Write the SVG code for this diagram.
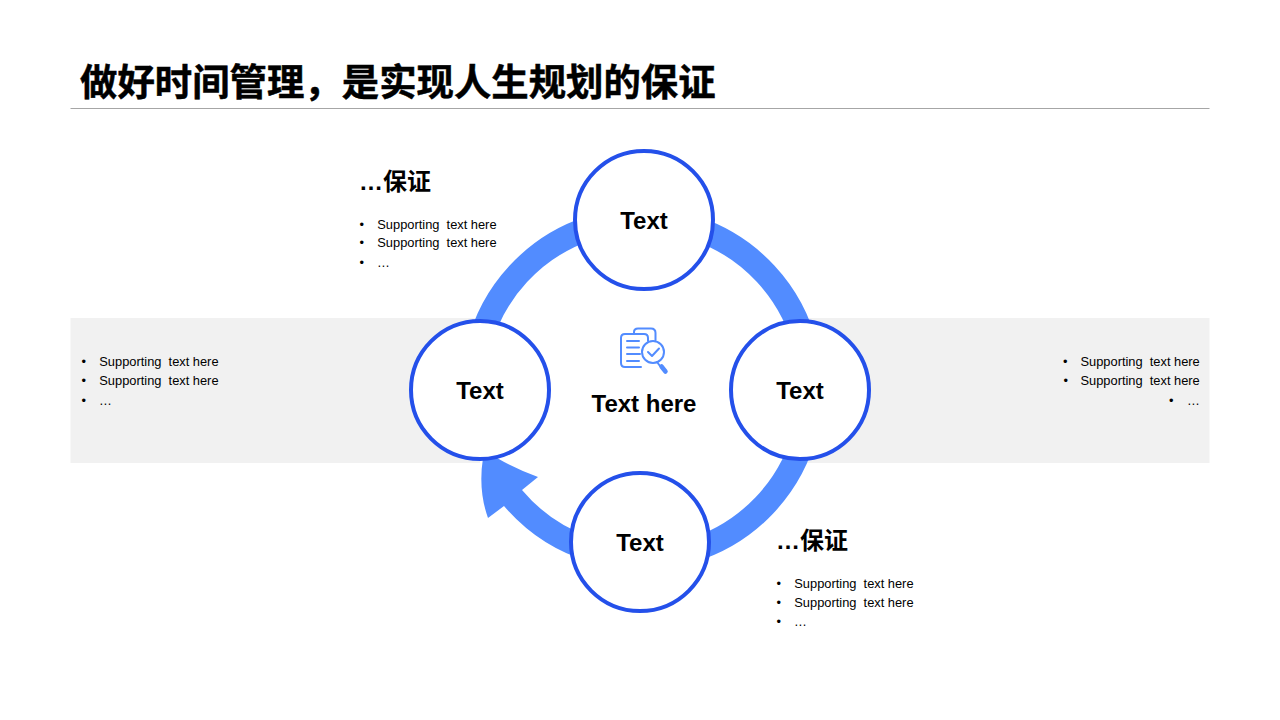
<svg xmlns="http://www.w3.org/2000/svg" width="1280" height="720" viewBox="0 0 1280 720">
<style>
.cjk{font-family:"Liberation Sans","Noto Sans CJK SC",sans-serif;font-weight:700;fill:#000}
.sup{font-family:"Liberation Sans","Noto Sans CJK SC",sans-serif;font-size:12.85px;fill:#000}
.node{fill:#fff;stroke:#2450ea;stroke-width:4}
.lab{font-family:"Liberation Sans",sans-serif;font-weight:700;font-size:24px;fill:#000;text-anchor:middle}
.ring{fill:none;stroke:#528cff;stroke-width:24}
.ic{fill:none;stroke:#528cff;stroke-width:2;stroke-linecap:round;stroke-linejoin:round}
</style>
<rect width="1280" height="720" fill="#fff"/>
<rect x="70.500" y="318" width="409.500" height="145" fill="#f1f1f1"/>
<rect x="800" y="318" width="409.500" height="145" fill="#f1f1f1"/>
<text class="cjk" x="80" y="95.500" font-size="37.4" stroke="#000" stroke-width="0.5">做好时间管理，是实现人生规划的保证</text>
<line x1="70.500" y1="108.500" x2="1209.500" y2="108.500" stroke="#a6a6a6" stroke-width="1"/>
<g id="connectors">
<path class="ring" d="M478 349A169 169 0 0 1 590 228"/>
<path class="ring" d="M694 228A169 169 0 0 1 806 349"/>
<path class="ring" d="M806 429A169 169 0 0 1 690 551"/>
<path d="M483 458L497 458Q516 469 538 477L522 490A157 157 0 0 0 590 537L590 562A181 181 0 0 1 504 506L488 518Q478 490 483 458Z" fill="#528cff"/>
</g>
<g id="center">
<g class="ic">
<path d="M634 334V332Q634 328.500 638 328.500H651Q655.500 328.500 655.500 333V340"/>
<path d="M641 367H625Q621 367 621 363V338Q621 334 625 334H644Q648 334 648 338V341"/>
<path d="M627 341H639M627 347.500H639M627 354H640M627 361H639"/>
<circle cx="653" cy="352" r="11"/>
<path d="M648 352L652 356L659 348.500"/>
<path d="M657 362L660 366"/>
<path d="M661.500 366.500L665.500 371.500" stroke-width="4.500"/>
</g>
<text class="lab" x="644" y="412">Text here</text>
</g>
<g id="node-top"><circle class="node" cx="644" cy="220" r="69"/><text class="lab" x="644" y="229">Text</text></g>
<g id="node-left"><circle class="node" cx="480" cy="390" r="69"/><text class="lab" x="480" y="399">Text</text></g>
<g id="node-right"><circle class="node" cx="800" cy="390" r="69"/><text class="lab" x="800" y="399">Text</text></g>
<g id="node-bottom"><circle class="node" cx="640" cy="542" r="69"/><text class="lab" x="640" y="551">Text</text></g>
<g id="note-top">
<text class="cjk" x="359" y="190" font-size="24">…保证</text>
<text class="sup" x="359.500" y="228.500">•</text><text class="sup" x="377.300" y="228.500" xml:space="preserve">Supporting  text here</text>
<text class="sup" x="359.500" y="247">•</text><text class="sup" x="377.300" y="247" xml:space="preserve">Supporting  text here</text>
<text class="sup" x="359.500" y="266.500">•</text><text class="sup" x="377" y="266.500">…</text>
</g>
<g id="note-left">
<text class="sup" x="81.500" y="365.500">•</text><text class="sup" x="99.300" y="365.500" xml:space="preserve">Supporting  text here</text>
<text class="sup" x="81.500" y="384.500">•</text><text class="sup" x="99.300" y="384.500" xml:space="preserve">Supporting  text here</text>
<text class="sup" x="81.500" y="404.500">•</text><text class="sup" x="99" y="404.500">…</text>
</g>
<g id="note-right">
<text class="sup" x="1063" y="365.500">•</text><text class="sup" x="1080.500" y="365.500" xml:space="preserve">Supporting  text here</text>
<text class="sup" x="1063.500" y="384.500">•</text><text class="sup" x="1080.500" y="384.500" xml:space="preserve">Supporting  text here</text>
<text class="sup" x="1169" y="404.500">•</text><text class="sup" x="1187" y="404.500">…</text>
</g>
<g id="note-bottom">
<text class="cjk" x="776" y="549" font-size="24">…保证</text>
<text class="sup" x="776.500" y="587.500">•</text><text class="sup" x="794.300" y="587.500" xml:space="preserve">Supporting  text here</text>
<text class="sup" x="776.500" y="606.500">•</text><text class="sup" x="794.300" y="606.500" xml:space="preserve">Supporting  text here</text>
<text class="sup" x="776.500" y="625.500">•</text><text class="sup" x="794" y="625.500">…</text>
</g>
</svg>
